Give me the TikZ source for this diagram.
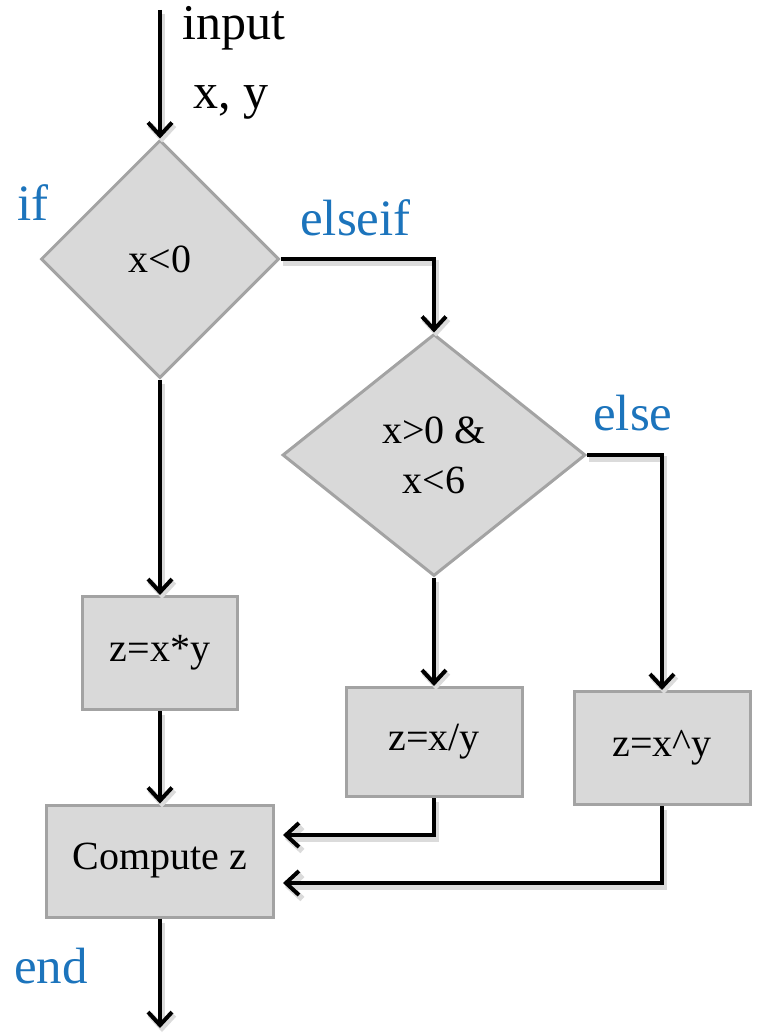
\documentclass[tikz,border=0pt]{standalone}
\usepackage{fontspec}
\setmainfont{Liberation Serif}
\usetikzlibrary{shapes.geometric,arrows.meta,calc}
\definecolor{boxfill}{HTML}{D9D9D9}
\definecolor{boxline}{HTML}{A3A3A3}
\definecolor{kwblue}{HTML}{1C74BC}

\begin{document}
\begin{tikzpicture}[x=1pt,y=-1pt,
  decision/.style={diamond, draw=boxline, fill=boxfill, line width=3pt,
    inner sep=0pt, align=center, font=\fontsize{40}{50}\selectfont},
  process/.style={rectangle, draw=boxline, fill=boxfill, line width=3pt,
    inner sep=0pt, align=center, font=\fontsize{40}{46}\selectfont},
  plain/.style={anchor=base west, inner sep=0pt, font=\fontsize{50}{54}\selectfont},
  keyword/.style={plain, text=kwblue, font=\fontsize{51}{54}\selectfont},
  link/.style={line width=4pt, -{Straight Barb[length=13pt,width=24pt]},
    preaction={draw=black!14, line width=6pt,
      transform canvas={shift={(2pt,-4pt)}}}}
]
\useasboundingbox (0,0) rectangle (758,1033);

% decisions
\node[decision, minimum width=238, minimum height=238] (d1) at (160,259) {x<0};
\node[decision, minimum width=303, minimum height=242] (d2) at (434,455) {x>0 \&\\x<6};

% process boxes
\node[process, minimum width=155, minimum height=113] (b1) at (160,653) {z=x*y};
\node[process, minimum width=176, minimum height=109] (b2) at (434,742) {z=x/y};
\node[process, minimum width=176, minimum height=113] (b3) at (662,748) {z=x\textasciicircum y};
\node[process, minimum width=227, minimum height=112] (cz) at (160,861) {Compute z};

% text labels
\node[plain] (lin) at (182,40) {input};
\node[plain] (lxy) at (193,108) {x, y};
\node[keyword] (kif) at (17,220) {if};
\node[keyword] (kelseif) at (300,235) {elseif};
\node[keyword] (kelse) at (593,430) {else};
\node[keyword] (kend) at (14,983) {end};

% free ends
\coordinate (src) at (160,10);
\coordinate (sink) at (160,1028);

% connectors
\draw[link] (src) -- (d1.north);
\draw[link] (d1.east) -| (d2.north);
\draw[link] (d2.east) -| (b3.north);
\draw[link] (d1.south) -- (b1.north);
\draw[link] (b1.south) -- (cz.north);
\draw[link] (d2.south) -- (b2.north);
\draw[link] (b2.south) |- ($(cz.east)+(8,-26)$);
\draw[link] (b3.south) |- ($(cz.east)+(8,22)$);
\draw[link] (cz.south) -- (sink);
\end{tikzpicture}
\end{document}
